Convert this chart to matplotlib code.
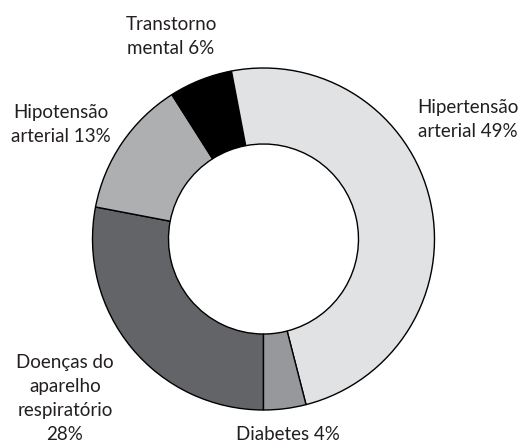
import matplotlib
matplotlib.use("agg")
import matplotlib.pyplot as plt

# Data
labels = ["Doenças do\naparelho\nrespiratório\n28%", "Hipotensão\narterial 13%",
          "Transtorno\nmental 6%", "Hipertensão\narterial 49%", "Diabetes 4%"]
values = [28, 13, 6, 49, 4]
colors = ["#636467", "#aeafb1", "#000000", "#e1e2e4", "#97989b"]

# label anchor points (pixel coords from top-left, last-line baseline)
label_pos = [(65, 440), (61, 142), (171, 54), (468, 137), (288, 440)]

W, H = 521, 445
fig = plt.figure(figsize=(W / 100, H / 100), dpi=100)
ax = fig.add_axes([0, 0, 1, 1])

ax.pie(values, colors=colors, startangle=-90, counterclock=False,
       center=(263.5, H - 239), radius=171, frame=True,
       wedgeprops=dict(width=76, edgecolor="black", linewidth=1.0))
ax.set_xlim(0, W)
ax.set_ylim(0, H)
ax.set_aspect("equal")
ax.axis("off")

for lab, (x, y) in zip(labels, label_pos):
    ax.text(x, H - y, lab, ha="center", va="baseline", multialignment="center",
            fontsize=13.5, family="Lato", color="#231f20", linespacing=1.5)

fig.savefig("out.png", dpi=100)
